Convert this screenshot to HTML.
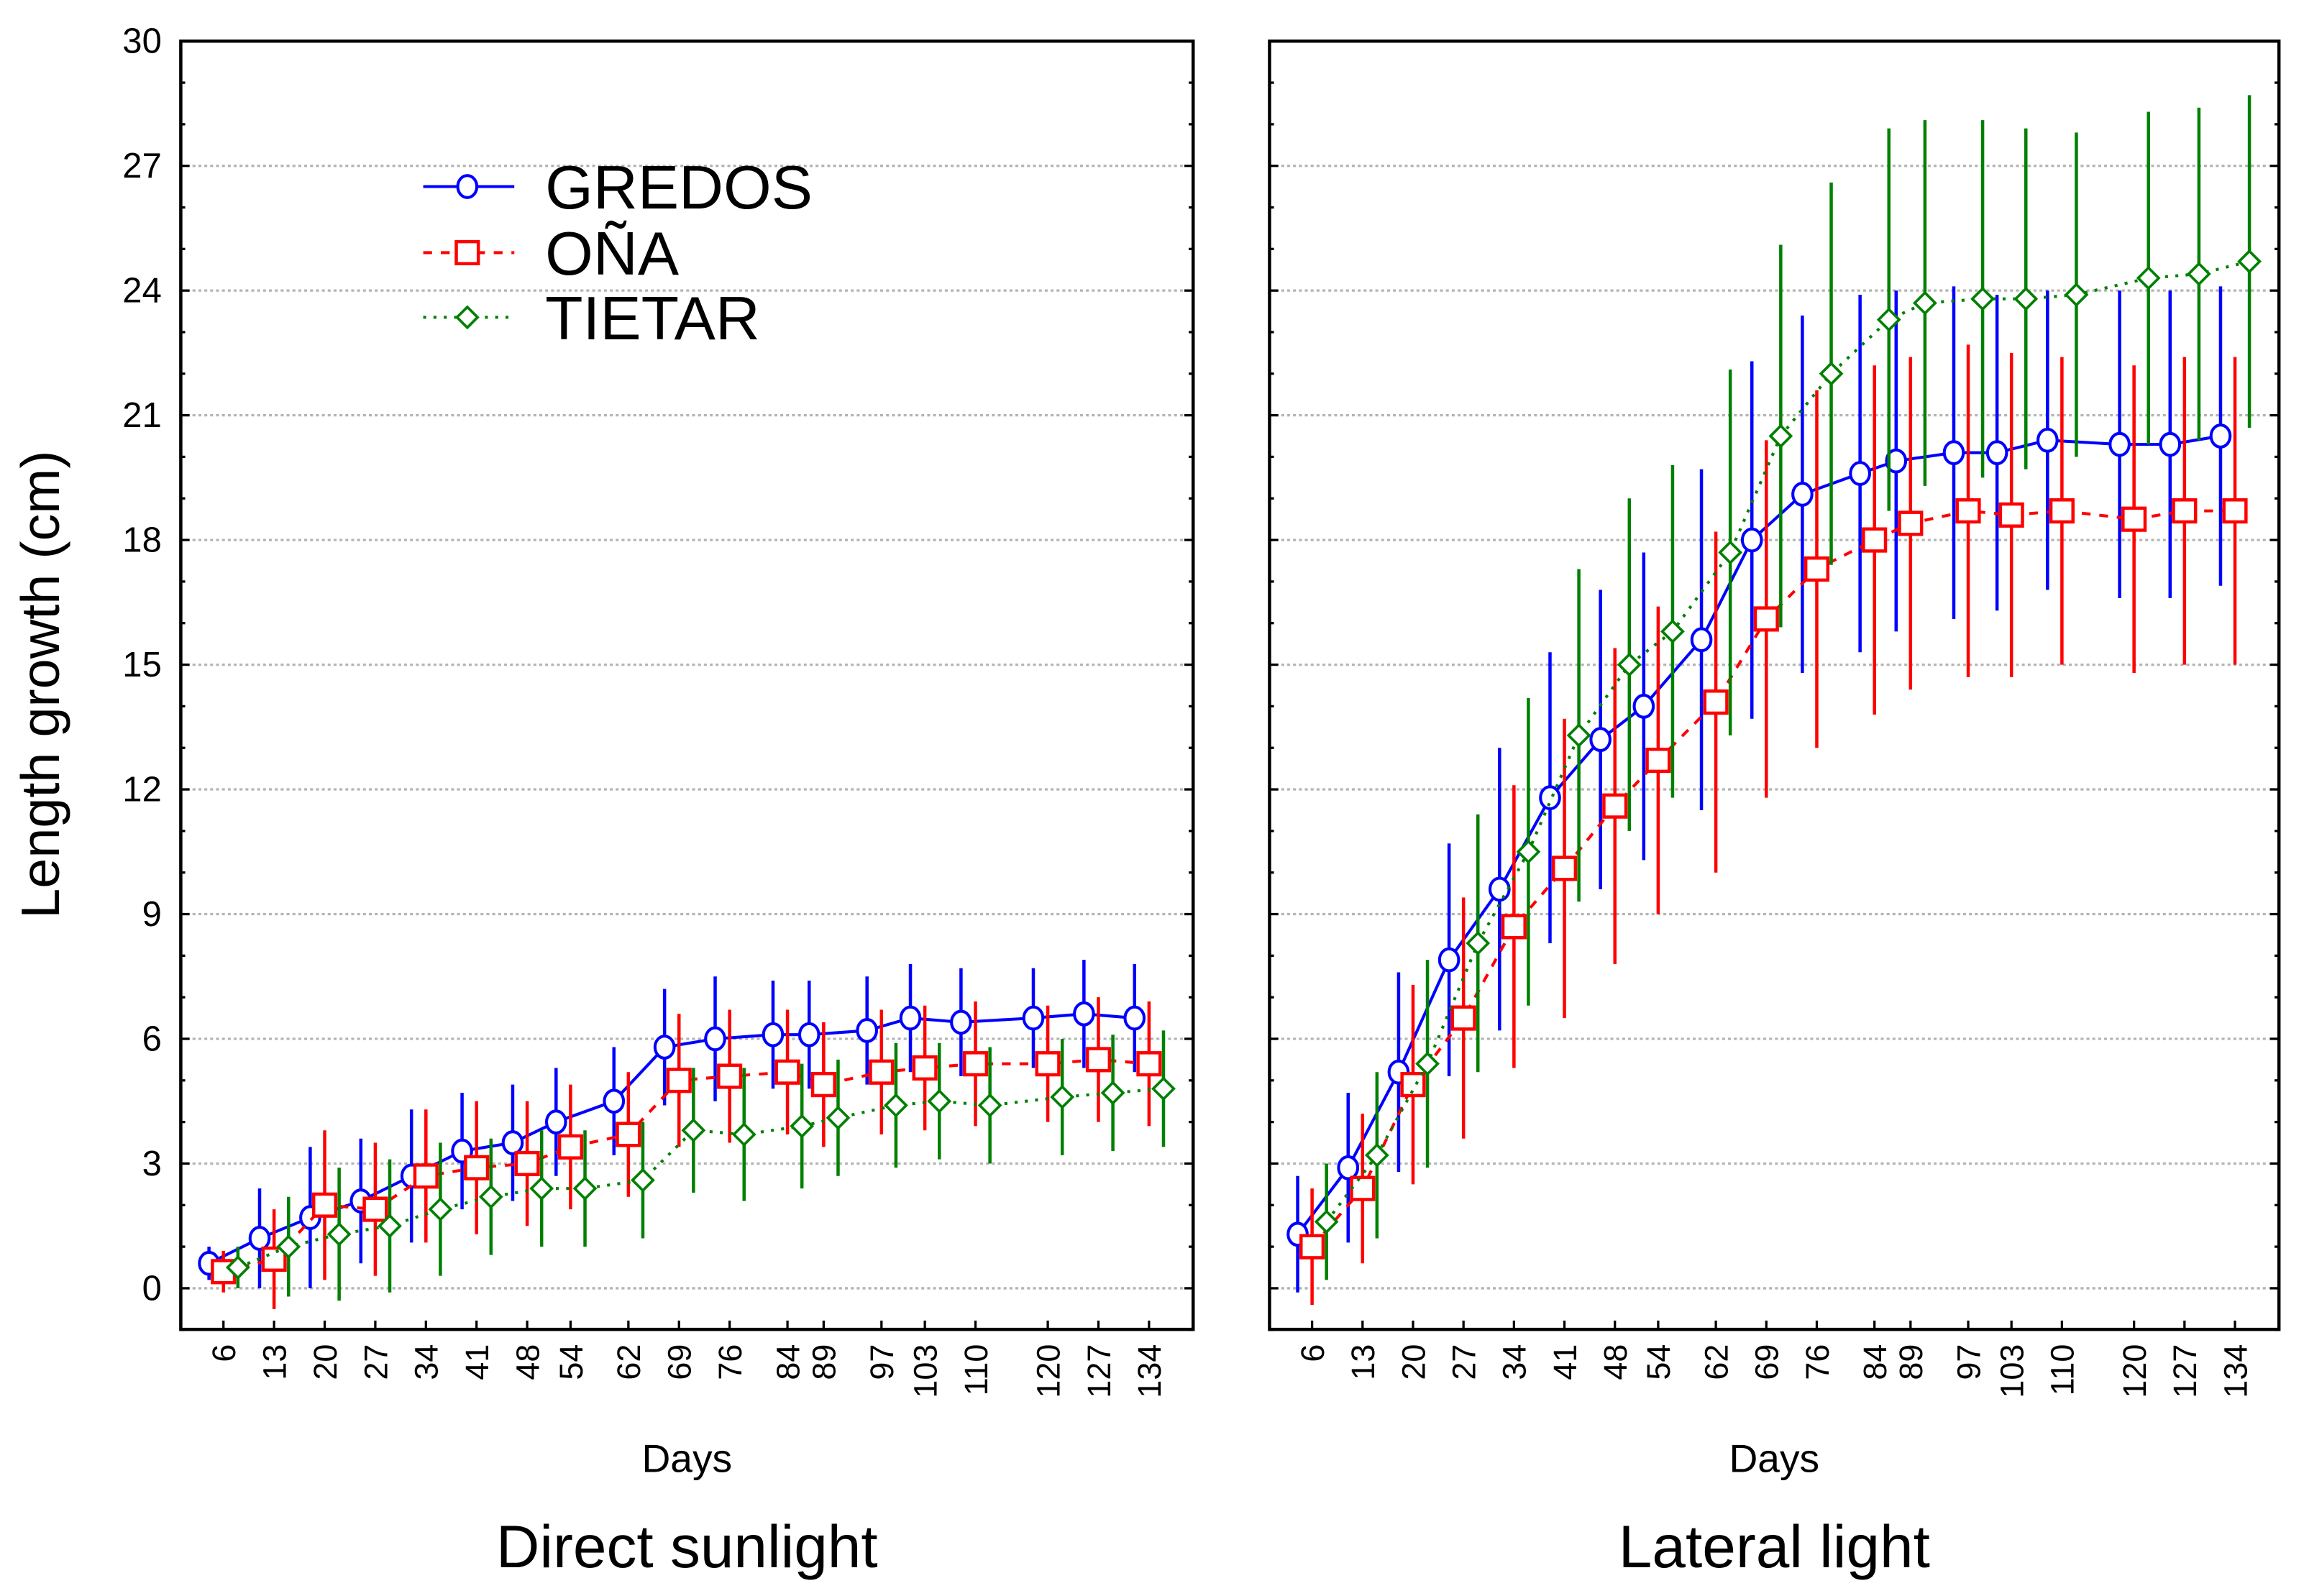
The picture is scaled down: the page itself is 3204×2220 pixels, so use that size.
<!DOCTYPE html>
<html><head><meta charset="utf-8"><style>
html,body{margin:0;padding:0;background:#fff;}
svg{display:block;font-family:"Liberation Sans",sans-serif;}
</style></head><body>
<svg id="chart" width="3204" height="2220" viewBox="0 0 1568 1086.5" xmlns="http://www.w3.org/2000/svg"></svg>
<script>
const days = [6,13,20,27,34,41,48,54,62,69,76,84,89,97,103,110,120,127,134];
const yTicks = [0,3,6,9,12,15,18,21,24,27,30];
const dsGredos = [0.6,1.2,1.7,2.1,2.7,3.3,3.5,4.0,4.5,5.8,6.0,6.1,6.1,6.2,6.5,6.4,6.5,6.6,6.5];
const dsGredosErr = [0.4,1.2,1.7,1.5,1.6,1.4,1.4,1.3,1.3,1.4,1.5,1.3,1.3,1.3,1.3,1.3,1.2,1.3,1.3];
const dsOna = [0.4,0.7,2.0,1.9,2.7,2.9,3.0,3.4,3.7,5.0,5.1,5.2,4.9,5.2,5.3,5.4,5.4,5.5,5.4];
const dsOnaErr = [0.5,1.2,1.8,1.6,1.6,1.6,1.5,1.5,1.5,1.6,1.6,1.5,1.5,1.5,1.5,1.5,1.4,1.5,1.5];
const dsTietar = [0.5,1.0,1.3,1.5,1.9,2.2,2.4,2.4,2.6,3.8,3.7,3.9,4.1,4.4,4.5,4.4,4.6,4.7,4.8];
const dsTietarErr = [0.5,1.2,1.6,1.6,1.6,1.4,1.4,1.4,1.4,1.5,1.6,1.5,1.4,1.5,1.4,1.4,1.4,1.4,1.4];
const llGredos = [1.3,2.9,5.2,7.9,9.6,11.8,13.2,14.0,15.6,18.0,19.1,19.6,19.9,20.1,20.1,20.4,20.3,20.3,20.5];
const llGredosErr = [1.4,1.8,2.4,2.8,3.4,3.5,3.6,3.7,4.1,4.3,4.3,4.3,4.1,4.0,3.8,3.6,3.7,3.7,3.6];
const llOna = [1.0,2.4,4.9,6.5,8.7,10.1,11.6,12.7,14.1,16.1,17.3,18.0,18.4,18.7,18.6,18.7,18.5,18.7,18.7];
const llOnaErr = [1.4,1.8,2.4,2.9,3.4,3.6,3.8,3.7,4.1,4.3,4.3,4.2,4.0,4.0,3.9,3.7,3.7,3.7,3.7];
const llTietar = [1.6,3.2,5.4,8.3,10.5,13.3,15.0,15.8,17.7,20.5,22.0,23.3,23.7,23.8,23.8,23.9,24.3,24.4,24.7];
const llTietarErr = [1.4,2.0,2.5,3.1,3.7,4.0,4.0,4.0,4.4,4.6,4.6,4.6,4.4,4.3,4.1,3.9,4.0,4.0,4.0];

const NS="http://www.w3.org/2000/svg";
const svgRoot=document.getElementById('chart');
function mk(tag,attrs,parent){const e=document.createElementNS(NS,tag);for(const k in attrs)e.setAttribute(k,attrs[k]);(parent||svgRoot).appendChild(e);return e;}
const yPix=v=>877-v*28.3;
const plotTop=28,plotBot=905;

function panel(x0,x1,name,title,sets,showY){
  const g=mk('g',{});
  
  
  const xPix=d=>x0+(d-0.1)*(x1-x0)/140;
  yTicks.forEach(t=>{if(t<30){const l=mk('line',{x1:x0,x2:x1,y1:yPix(t),y2:yPix(t),stroke:'#b4b4b4','stroke-width':1.6,'stroke-dasharray':'2 2'},g);
    
    }});
  for(let v=-1;v<=30;v++){const y=yPix(v);const len=(v%3===0)?6:3;
    mk('line',{x1:x0,x2:x0+len,y1:y,y2:y,stroke:'#000','stroke-width':1.6},g);
    mk('line',{x1:x1,x2:x1-len,y1:y,y2:y,stroke:'#000','stroke-width':1.6},g);}
  if(showY){yTicks.forEach(t=>{const tx=mk('text',{x:x0-13,y:yPix(t)+8,'text-anchor':'end','font-size':24},g);tx.textContent=t;
    
    });}
  days.forEach(d=>{const x=xPix(d);
    mk('line',{x1:x,x2:x,y1:plotBot,y2:plotBot-6,stroke:'#000','stroke-width':1.6},g);
    const tx=mk('text',{x:0,y:0,'text-anchor':'end','font-size':22,transform:`translate(${x+8},${plotBot+10}) rotate(-90)`},g);
    tx.textContent=d;
    
    });
  sets.forEach(s=>{
    const sg=mk('g',{},g);
    
    
    const pts=days.map((d,i)=>[xPix(d+s.off),yPix(s.vals[i])]);
    const pl=mk('polyline',{points:pts.map(p=>p.join(',')).join(' '),fill:'none',stroke:s.color,'stroke-width':2,'stroke-dasharray':s.dash},sg);
    
    
    days.forEach((d,i)=>{const x=xPix(d+s.off);
      const eb=mk('line',{x1:x,x2:x,y1:yPix(s.vals[i]-s.err[i]),y2:yPix(s.vals[i]+s.err[i]),stroke:s.color,'stroke-width':2.2},sg);
      
      });
    pts.forEach(p=>{let m;
      if(s.shape==='c')m=mk('ellipse',{cx:p[0],cy:p[1],rx:6.5,ry:7.5,fill:'#fff',stroke:s.color,'stroke-width':2},sg);
      else if(s.shape==='s')m=mk('rect',{x:p[0]-7.5,y:p[1]-7.5,width:15,height:15,fill:'#fff',stroke:s.color,'stroke-width':2.2},sg);
      else m=mk('polygon',{points:`${p[0]},${p[1]-7} ${p[0]+7},${p[1]} ${p[0]},${p[1]+7} ${p[0]-7},${p[1]}`,fill:'#fff',stroke:s.color,'stroke-width':1.8},sg);
      
      });
  });
  const fr=mk('rect',{x:x0,y:plotTop,width:x1-x0,height:plotBot-plotTop,fill:'none',stroke:'#000','stroke-width':2.2},g);
  
  
  const xt=mk('text',{x:(x0+x1)/2,y:1002,'text-anchor':'middle','font-size':27},g);
  xt.textContent='Days';
  
  
  const pt=mk('text',{x:(x0+x1)/2,y:1067,'text-anchor':'middle','font-size':41},g);
  pt.textContent=title;
  
  
}
const cG='#0000ff',cO='#ff0000',cT='#008000';
panel(123,812,'direct-sunlight-panel','Direct sunlight',[
 {name:'series-gredos',vals:dsGredos,err:dsGredosErr,color:cG,dash:'none',shape:'c',off:-2},
 {name:'series-ona',vals:dsOna,err:dsOnaErr,color:cO,dash:'6 6',shape:'s',off:0},
 {name:'series-tietar',vals:dsTietar,err:dsTietarErr,color:cT,dash:'2 5',shape:'d',off:2}],true);
panel(864,1551,'lateral-light-panel','Lateral light',[
 {name:'series-gredos',vals:llGredos,err:llGredosErr,color:cG,dash:'none',shape:'c',off:-2},
 {name:'series-ona',vals:llOna,err:llOnaErr,color:cO,dash:'6 6',shape:'s',off:0},
 {name:'series-tietar',vals:llTietar,err:llTietarErr,color:cT,dash:'2 5',shape:'d',off:2}],false);

const yt=mk('text',{x:0,y:0,'text-anchor':'middle','font-size':37,transform:'translate(46,466) rotate(-90)'});
yt.textContent='Length growth (cm)';


yt.setAttribute('transform','translate(40,466) rotate(-90)');

const lg=mk('g',{});


const leg=[['GREDOS',cG,'none','c',127],['OÑA',cO,'6 6','s',172],['TIETAR',cT,'2 5','d',216]];
leg.forEach(L=>{const e=mk('g',{},lg);
  
  
  const y=L[4];
  mk('line',{x1:288,x2:350,y1:y,y2:y,stroke:L[1],'stroke-width':2,'stroke-dasharray':L[2]},e);
  if(L[3]==='c')mk('ellipse',{cx:318,cy:y,rx:6.5,ry:7.5,fill:'#fff',stroke:L[1],'stroke-width':2},e);
  else if(L[3]==='s')mk('rect',{x:310.5,y:y-7.5,width:15,height:15,fill:'#fff',stroke:L[1],'stroke-width':2.2},e);
  else mk('polygon',{points:`318,${y-7} 325,${y} 318,${y+7} 311,${y}`,fill:'#fff',stroke:L[1],'stroke-width':1.8},e);
  const t=mk('text',{x:371,y:y+15,'font-size':42},e);
  t.textContent=L[0];});
</script>
</body></html>
